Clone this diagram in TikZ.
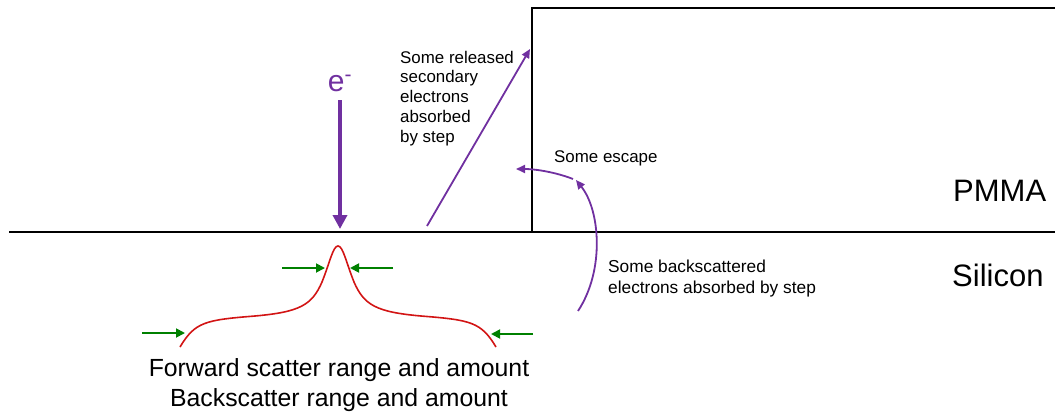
\documentclass[tikz,border=0pt]{standalone}
\usepackage{fontspec}
\setmainfont{Liberation Sans}
\usetikzlibrary{arrows.meta}
\definecolor{epurple}{RGB}{112,48,160}
\definecolor{egreen}{RGB}{0,128,0}
\definecolor{ered}{RGB}{210,20,20}
\tikzset{
  wall/.style={line width=2.2pt, black},
  parrow/.style={line width=1.8pt, epurple, -{Triangle[length=9pt,width=8pt]}},
  garrow/.style={line width=1.8pt, egreen, -{Triangle[length=9pt,width=9pt]}},
  lbl/.style={inner sep=0pt, font=\fontsize{16.9}{19.75}\selectfont, align=left},
  big/.style={inner sep=0pt, font=\fontsize{31}{34}\selectfont}
}
\begin{document}
\begin{tikzpicture}[x=1pt,y=-1pt]
\useasboundingbox (0,0) rectangle (1055,415);
% ground line and step
\coordinate (L) at (9,232);
\coordinate (R) at (1055,232);
\coordinate (SB) at (532,232);
\coordinate (ST) at (532,8);
\coordinate (SR) at (1055,8);
\draw[wall] (L) -- (R);
\draw[wall, line cap=rect] (SB) -- (ST) -- (SR);
% labels
\node[big, anchor=base west] (pmma) at (953,201) {PMMA};
\node[big, anchor=base west] (si) at (952,286) {Silicon};
% electron
\node[inner sep=0pt, font=\fontsize{30}{34}\selectfont, text=epurple, anchor=base] (e) at (340,91) {e\textsuperscript{-}};
\coordinate (eb) at (340,229);
\draw[line width=4pt, epurple, -{Triangle[length=14pt,width=14pt]}] (340,100) -- (eb);
% secondary electrons
\coordinate (s1) at (427,226);
\coordinate (s2) at (530,49);
\draw[parrow] (s1) -- (s2);
\node[lbl, anchor=base west] (sec) at (400,142) {Some released\\secondary\\electrons\\absorbed\\by step};
% escape
\coordinate (es1) at (573,179);
\coordinate (es2) at (516,169);
\draw[parrow] (es1) .. controls (555,172) and (535,169) .. (es2);
\node[lbl, anchor=base west] (esc) at (554,162) {Some escape};
% backscatter arrow
\coordinate (b1) at (578,311);
\coordinate (b2) at (576,180);
\draw[parrow] (b1) .. controls (605,270) and (600,210) .. (b2);
\node[lbl, font=\fontsize{17.3}{20.5}\selectfont, anchor=base west] (bs) at (608,293) {Some backscattered\\electrons absorbed by step};
% red curve
\draw[ered, line width=1.6pt]
  (180,347) .. controls (195,322) and (205,320) .. (255,316)
  .. controls (300,312) and (312,305) .. (322,282)
  .. controls (330,262) and (333,246) .. (338,246)
  .. controls (343,246) and (346,262) .. (354,282)
  .. controls (364,305) and (376,312) .. (421,316)
  .. controls (471,320) and (481,322) .. (496,347);
% green arrows
\coordinate (g1a) at (282,268); \coordinate (g1b) at (325,268);
\coordinate (g2a) at (393,268); \coordinate (g2b) at (350,268);
\coordinate (g3a) at (142,333); \coordinate (g3b) at (185,333);
\coordinate (g4a) at (533,334); \coordinate (g4b) at (491,334);
\draw[garrow] (g1a) -- (g1b);
\draw[garrow] (g2a) -- (g2b);
\draw[garrow] (g3a) -- (g3b);
\draw[garrow] (g4a) -- (g4b);
% bottom text
\node[inner sep=0pt, font=\fontsize{24.8}{30}\selectfont, align=center, anchor=base] (fw) at (339,406) {Forward scatter range and amount\\Backscatter range and amount};
\end{tikzpicture}
\end{document}
